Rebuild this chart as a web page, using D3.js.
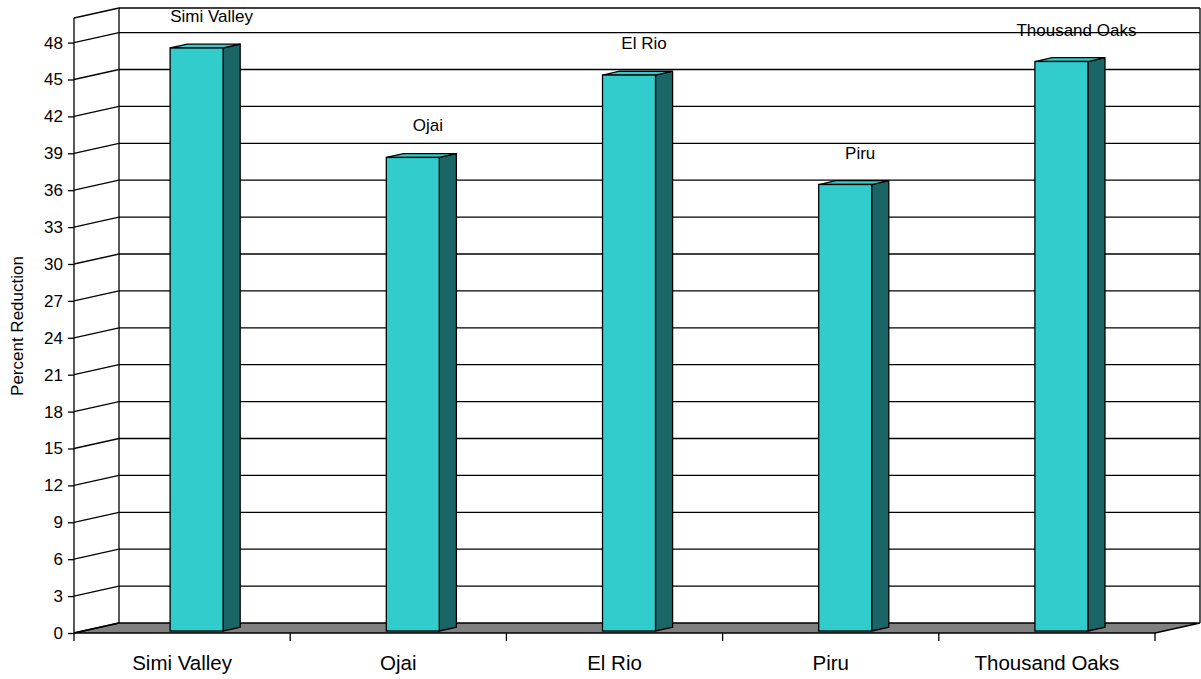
<!DOCTYPE html>
<html>
<head>
<meta charset="utf-8">
<script src="https://cdn.jsdelivr.net/npm/d3@7"></script>
<style>
  body { margin: 0; background: #fff; }
  text { font-family: "Liberation Sans", Arial, sans-serif; fill: #000; }
</style>
</head>
<body>
<div id="chart"></div>
<script>
// Data
var sites = ["Simi Valley", "Ojai", "El Rio", "Piru", "Thousand Oaks"];
var reduction = [47.4, 38.5, 45.2, 36.3, 46.3];
var yTicks = [0, 3, 6, 9, 12, 15, 18, 21, 24, 27, 30, 33, 36, 39, 42, 45, 48];

var width = 1201, height = 679;

// Front plane of the 3D box and its depth offset
var x0 = 74, x1 = 1155, yBottom = 633, yTop = 18;
var depthX = 45, depthY = -10;

var svg = d3.select("#chart").append("svg")
    .attr("width", width)
    .attr("height", height);

var x = d3.scaleBand()
    .domain(sites)
    .range([x0, x1])
    .paddingInner(0.755)
    .paddingOuter(0.3775);

var y = d3.scaleLinear()
    .domain([0, 50])
    .range([yBottom, yTop]);

// project a front-plane point into the depth of the box (z between 0 and 1)
function px(xv, z) { return xv + z * depthX; }
function py(yv, z) { return yv + z * depthY; }

// Floor
svg.append("polygon")
    .attr("points", [[x0, y(0)], [x1, y(0)], [px(x1, 1), py(y(0), 1)], [px(x0, 1), py(y(0), 1)]].join(" "))
    .style("fill", "#808080")
    .style("stroke", "#000")
    .style("stroke-width", 1.3);

// Back wall grid lines and left wall diagonals
var grid = svg.append("g").attr("class", "grid");
yTicks.concat([50]).forEach(function(v) {
  if (v > 0) {
    grid.append("line")
      .attr("x1", px(x0, 1)).attr("x2", px(x1, 1))
      .attr("y1", py(y(v), 1)).attr("y2", py(y(v), 1))
      .style("stroke", "#000").style("stroke-width", 1.3);
  }
  grid.append("line")
    .attr("x1", x0).attr("x2", px(x0, 1))
    .attr("y1", y(v)).attr("y2", py(y(v), 1))
    .style("stroke", "#000").style("stroke-width", 1.3);
});

// Wall edges
grid.append("line")
    .attr("x1", px(x0, 1)).attr("x2", px(x0, 1))
    .attr("y1", py(y(0), 1)).attr("y2", py(y(50), 1))
    .style("stroke", "#000").style("stroke-width", 1.3);
grid.append("line")
    .attr("x1", px(x1, 1)).attr("x2", px(x1, 1))
    .attr("y1", py(y(0), 1)).attr("y2", py(y(50), 1))
    .style("stroke", "#000").style("stroke-width", 1.3);

// Front y axis
var yAxis = svg.append("g")
    .attr("transform", "translate(" + x0 + ",0)")
    .call(d3.axisLeft(y).tickValues(yTicks).tickSize(6).tickPadding(5));
yAxis.select(".domain").remove();
yAxis.append("line")
    .attr("y1", y(0)).attr("y2", y(50))
    .style("stroke", "#000").style("stroke-width", 1.3);
yAxis.selectAll(".tick line").style("stroke-width", 1.3);
yAxis.selectAll(".tick text")
    .style("font-size", "17px")
    .style("font-family", "Liberation Sans, Arial, sans-serif");

// Front x axis ticks at category boundaries
var xAxis = svg.append("g");
var bounds = sites.map(function(s) { return x(s) - x.step() * x.paddingInner() / 2; }).concat([x1]);
bounds.forEach(function(b) {
  xAxis.append("line")
    .attr("x1", b).attr("x2", b)
    .attr("y1", y(0)).attr("y2", y(0) + 8)
    .style("stroke", "#000").style("stroke-width", 1.3);
});
xAxis.selectAll("text.cat")
    .data(sites)
  .enter().append("text")
    .attr("class", "cat")
    .attr("x", function(d) { return x(d) + x.bandwidth() / 2; })
    .attr("y", 670)
    .style("text-anchor", "middle")
    .style("font-size", "20.5px")
    .text(function(d) { return d; });

// Bars: front, top and side faces
var zFront = 0.2, zBack = 0.58, shift = 5.5;
var bars = svg.append("g").attr("class", "bars");
sites.forEach(function(s, i) {
  var l = x(s) + shift, r = l + x.bandwidth();
  var b = y(0), t = y(reduction[i]);
  var fl = px(l, zFront), fr = px(r, zFront), bl = px(l, zBack), br = px(r, zBack);
  var fb = py(b, zFront), ft = py(t, zFront), bb = py(b, zBack), bt = py(t, zBack);

  bars.append("polygon")
    .attr("points", [[fr, fb], [br, bb], [br, bt], [fr, ft]].join(" "))
    .style("fill", "#1a6666").style("stroke", "#000").style("stroke-width", 1.3);
  bars.append("polygon")
    .attr("points", [[fl, ft], [fr, ft], [br, bt], [bl, bt]].join(" "))
    .style("fill", "#33cccc").style("stroke", "#000").style("stroke-width", 1.3);
  bars.append("rect")
    .attr("x", fl).attr("y", ft)
    .attr("width", fr - fl).attr("height", fb - ft)
    .style("fill", "#33cccc").style("stroke", "#000").style("stroke-width", 1.3);

  // data label above the bar
  bars.append("text")
    .attr("x", (fl + fr) / 2 + 15)
    .attr("y", ft - 26)
    .style("text-anchor", "middle")
    .style("font-size", "17px")
    .text(s);
});

// Y axis title
svg.append("text")
    .attr("transform", "translate(23,326) rotate(-90)")
    .style("text-anchor", "middle")
    .style("font-size", "17px")
    .text("Percent Reduction");
</script>
</body>
</html>
